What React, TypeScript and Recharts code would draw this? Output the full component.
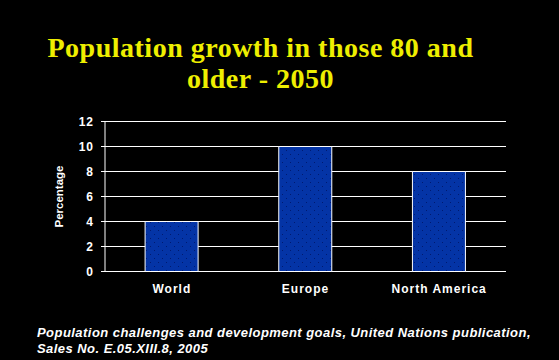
import React from 'react';
import { BarChart, Bar, XAxis, YAxis, CartesianGrid } from 'recharts';

const regions = ['World', 'Europe', 'North America'];
const growth = [4, 10, 8];
const yTicks = [0, 2, 4, 6, 8, 10, 12];
const boundaryTicks = [0, 1, 2, 3];

const titleLines = ['Population growth in those 80 and', 'older - 2050'];
const sourceLines = [
  'Population challenges and development goals, United Nations publication,',
  'Sales No. E.05.XIII.8, 2005',
];

const data = regions.map((r, i) => ({ region: r, value: growth[i] }));

const SANS = '"Liberation Sans", Arial, sans-serif';
const SERIF = '"Liberation Serif", "Times New Roman", serif';

const tickFont = {
  fill: '#ffffff',
  fontSize: 12,
  fontWeight: 'bold',
  fontFamily: SANS,
  letterSpacing: 1,
};

export default function App() {
  return (
    <div
      style={{
        position: 'absolute',
        left: 0,
        top: 0,
        width: 559,
        height: 360,
        background: '#000',
        overflow: 'hidden',
      }}
    >
      <svg width={0} height={0} style={{ position: 'absolute' }}>
        <defs>
          <pattern id="dots" width={8} height={8} patternUnits="userSpaceOnUse">
            <rect width={8} height={8} fill="#0434A6" />
            <rect x={2} y={2} width={1} height={1} fill="#001a70" />
            <rect x={6} y={6} width={1} height={1} fill="#001a70" />
          </pattern>
        </defs>
      </svg>
      <div
        style={{
          position: 'absolute',
          left: 0,
          width: 521,
          top: 32,
          textAlign: 'center',
          fontFamily: SERIF,
          fontWeight: 'bold',
          fontSize: 28,
          lineHeight: '31px',
          color: '#EEEE00',
          letterSpacing: 0.5,
          whiteSpace: 'nowrap',
        }}
      >
        {titleLines.map((t) => (
          <div key={t}>{t}</div>
        ))}
      </div>
      <div style={{ position: 'absolute', left: 0, top: 0 }}>
        <BarChart
          width={559}
          height={360}
          data={data}
          margin={{ top: 121.5, right: 53, bottom: 58.5, left: 45 }}
          barCategoryGap="30%"
        >
          <CartesianGrid vertical={false} stroke="#ffffff" strokeWidth={1} />
          <XAxis
            xAxisId="b"
            type="number"
            dataKey="value"
            domain={[0, 3]}
            ticks={boundaryTicks}
            height={0}
            axisLine={{ stroke: '#ffffff' }}
            tickLine={{ stroke: '#ffffff' }}
            tickSize={4}
            tick={() => <g />}
            allowDataOverflow
          />
          <XAxis
            dataKey="region"
            height={30}
            axisLine={false}
            tickLine={false}
            tickSize={4}
            tickMargin={9}
            tick={tickFont}
          />
          <YAxis
            width={60}
            domain={[0, 12]}
            ticks={yTicks}
            axisLine={{ stroke: '#ffffff' }}
            tickLine={{ stroke: '#ffffff' }}
            tickSize={4}
            tickMargin={7}
            tick={tickFont}
            label={{
              value: 'Percentage',
              angle: -90,
              position: 'insideLeft',
              offset: 14,
              textAnchor: 'middle',
              fill: '#ffffff',
              fontSize: 11.5,
              fontWeight: 'bold',
              fontFamily: SANS,
            }}
          />
          <YAxis
            yAxisId="r"
            orientation="right"
            width={0}
            domain={[0, 12]}
            axisLine={{ stroke: '#aaaaaa', strokeDasharray: '2 2' }}
            tickLine={false}
            tick={false}
          />
          <Bar
            dataKey="value"
            fill="url(#dots)"
            stroke="#ffffff"
            strokeWidth={1}
            isAnimationActive={false}
          />
        </BarChart>
      </div>
      <div
        style={{
          position: 'absolute',
          left: 37,
          top: 325,
          fontFamily: SANS,
          fontWeight: 'bold',
          fontStyle: 'italic',
          fontSize: 13,
          lineHeight: '16px',
          letterSpacing: 0.45,
          color: '#ffffff',
          whiteSpace: 'nowrap',
        }}
      >
        {sourceLines.map((t) => (
          <div key={t}>{t}</div>
        ))}
      </div>
    </div>
  );
}
